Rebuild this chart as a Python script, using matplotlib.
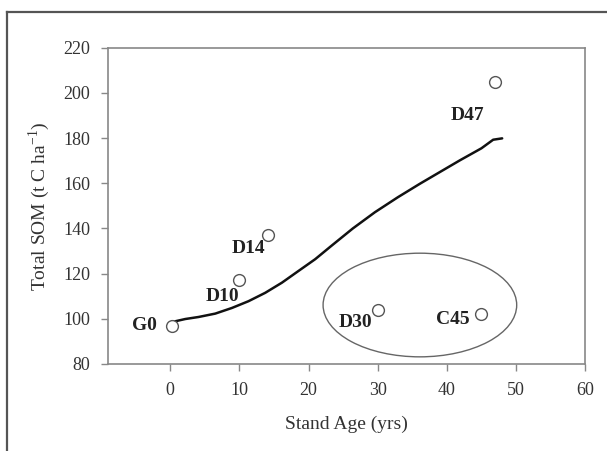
import matplotlib
matplotlib.use("Agg")
import matplotlib.pyplot as plt
from matplotlib.patches import Ellipse
from matplotlib.lines import Line2D

plt.rcParams['font.family'] = ['Liberation Serif', 'DejaVu Serif']
plt.rcParams['mathtext.fontset'] = 'custom'
plt.rcParams['mathtext.rm'] = 'Liberation Serif'
plt.rcParams['axes.unicode_minus'] = False

# Stand observations
site_labels = ["G0", "D10", "D14", "D30", "C45", "D47"]
stand_age = [0.3, 10, 14.2, 30, 45, 47]
total_som = [97, 117, 137, 104, 102, 205]

# Modelled trajectory
model_age = [0.4, 0.72, 2.17, 4.09, 6.51, 8.92, 11.32, 13.73, 16.15, 18.55,
             20.96, 23.3, 26.4, 29.6, 32.9, 36.1, 39.0, 41.9, 45.0, 46.7, 48.0]
model_som = [98.3, 98.9, 99.9, 100.8, 102.3, 104.8, 107.8, 111.5, 116.0, 121.2,
             126.4, 132.3, 140.0, 147.2, 153.8, 159.8, 165.0, 170.2, 175.5, 179.3, 179.9]

# Label positions (data units)
label_pos = {
    "G0": (-3.8, 97),
    "D10": (7.5, 110),
    "D14": (11.3, 131),
    "D30": (26.8, 98.5),
    "C45": (40.9, 99.5),
    "D47": (43.0, 190),
}

xticks = [0, 10, 20, 30, 40, 50, 60]
yticks = [80, 100, 120, 140, 160, 180, 200, 220]

fig = plt.figure(figsize=(6.07, 4.51), dpi=100)
ax = fig.add_axes([0.178, 0.193, 0.786, 0.701])

ax.plot(model_age, model_som, color="#111111", lw=1.8, zorder=3,
        solid_joinstyle="round", solid_capstyle="round")
ax.plot(stand_age, total_som, linestyle="none", marker="o", ms=8.5,
        mfc="white", mec="#555555", mew=1.0, zorder=4)

for name, (tx, ty) in label_pos.items():
    ax.text(tx, ty, name, fontsize=14, fontweight="bold", color="#222222",
            ha="center", va="center", zorder=5)

ax.add_patch(Ellipse((36.1, 106.1), 28.0, 45.9, fill=False,
                     edgecolor="#666666", lw=1.0, zorder=2))

ax.set_xlim(-9, 60)
ax.set_ylim(80, 220)
ax.set_xticks(xticks)
ax.set_yticks(yticks)
ax.tick_params(direction="out", length=5, width=1, color="#888888",
               labelcolor="#333333", labelsize=13, pad=8)
for s in ax.spines.values():
    s.set_color("#888888")
    s.set_linewidth(1.2)

ax.set_xlabel("Stand Age (yrs)", fontsize=14, color="#333333", labelpad=12)
ax.set_ylabel(r"Total SOM (t C ha$^{\mathregular{-1}}$)", fontsize=14,
              color="#333333", labelpad=8)

# Outer frame
fig.add_artist(Line2D([0.0115, 0.0115], [0.0, 0.973], transform=fig.transFigure,
                      color="#555555", lw=1.6))
fig.add_artist(Line2D([0.0115, 1.0], [0.973, 0.973], transform=fig.transFigure,
                      color="#555555", lw=1.6))

fig.savefig("out.png", dpi=100)
